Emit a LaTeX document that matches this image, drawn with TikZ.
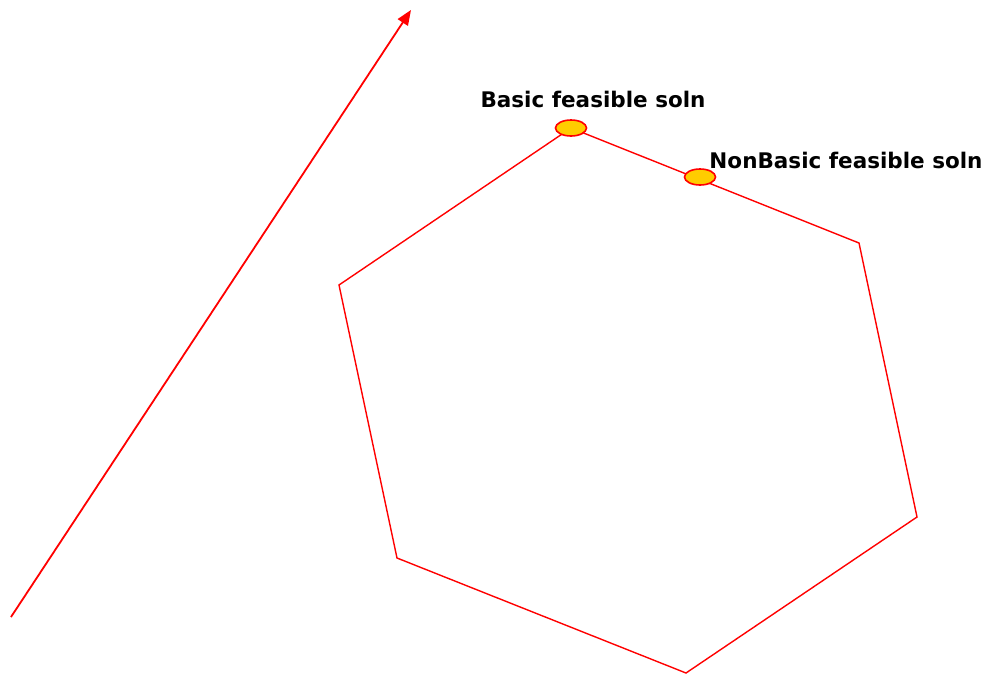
\documentclass[tikz,border=0pt]{standalone}
\usepackage{fontspec}
\setmainfont{DejaVu Sans}
\usetikzlibrary{calc, shapes.geometric, positioning, arrows.meta}
\definecolor{solnfill}{RGB}{255,204,0}

\begin{document}
\begin{tikzpicture}[>={Triangle[length=15pt,width=12pt]}, x=1pt, y=-1pt]

    % =================================================================
    % 1. CANVAS AND MAIN POINTS
    % =================================================================
    \useasboundingbox (0,0) rectangle (990,675);

    % Corners of the feasible region
    \coordinate (P1) at (571,128);
    \coordinate (P2) at (859,243);
    \coordinate (P3) at (917,517);
    \coordinate (P4) at (686,673);
    \coordinate (P5) at (397,558);
    \coordinate (P6) at (339,285);

    % Direction arrow
    \coordinate (ArrowStart) at (11,617);
    \coordinate (ArrowEnd) at (411,10);

    % =================================================================
    % 2. DRAW THE LINES
    % =================================================================
    % Feasible region (hexagon)
    \draw[red, line width=1.4pt] (P1) -- (P2) -- (P3) -- (P4) -- (P5) -- (P6) -- cycle;

    % Arrow on the left
    \draw[red, line width=1.8pt, ->] (ArrowStart) -- (ArrowEnd);

    % =================================================================
    % 3. MARK THE SOLUTIONS
    % =================================================================
    \node[ellipse, draw=red, fill=solnfill, line width=1.6pt,
          minimum width=31pt, minimum height=16pt, inner sep=0pt] (Basic) at (P1) {};
    \node[ellipse, draw=red, fill=solnfill, line width=1.6pt,
          minimum width=31pt, minimum height=16pt, inner sep=0pt] (NonBasic) at (700,177) {};

    % =================================================================
    % 4. LABELS
    % =================================================================
    \node[font=\bfseries\fontsize{21.5}{24}\selectfont, inner sep=0pt] (BasicLabel) at (593,99) {Basic feasible soln};
    \node[font=\bfseries\fontsize{21.5}{24}\selectfont, inner sep=0pt] (NonBasicLabel) at (846,160) {NonBasic feasible soln};

\end{tikzpicture}
\end{document}
